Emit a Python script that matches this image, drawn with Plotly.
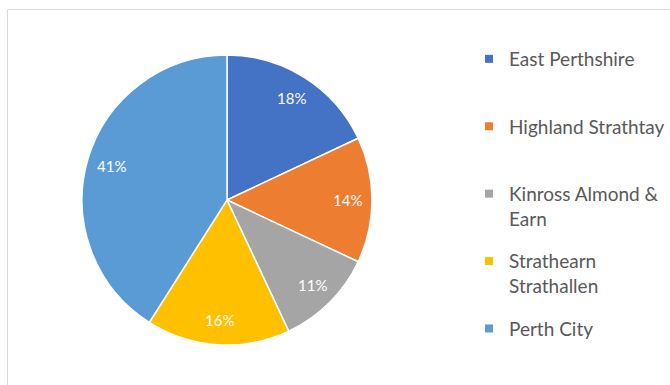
import math
import plotly.graph_objects as go

# Share of respondents by ward
wards = [
    "East Perthshire",
    "Highland Strathtay",
    "Kinross Almond & Earn",
    "Strathearn Strathallen",
    "Perth City",
]
legend_text = [
    "East Perthshire<br> ",
    "Highland Strathtay<br> ",
    "Kinross Almond &<br>Earn",
    "Strathearn<br>Strathallen",
    "Perth City<br> ",
]
shares = [18, 14, 11, 16, 41]
colours = ["#4472C4", "#ED7D31", "#A5A5A5", "#FFC000", "#5B9BD5"]

W, H = 670, 385
# pie placement in pixels
CX, CY, R = 227, 200, 145
LABEL_R = 0.83

fig = go.Figure()

fig.add_trace(
    go.Pie(
        labels=wards,
        values=shares,
        sort=False,
        direction="clockwise",
        rotation=0,
        marker=dict(colors=colours, line=dict(color="white", width=1.5)),
        textinfo="none",
        domain=dict(x=[(CX - R) / W, (CX + R) / W], y=[(H - CY - R) / H, (H - CY + R) / H]),
        hoverinfo="label+percent",
        showlegend=False,
    )
)

# percentage labels placed along each slice's mid-angle
total = sum(shares)
cum = 0
annotations = []
for v in shares:
    mid = (cum + v / 2) / total * 2 * math.pi
    cum += v
    px = CX + LABEL_R * R * math.sin(mid)
    py = CY - LABEL_R * R * math.cos(mid)
    annotations.append(
        dict(
            x=px / W,
            y=1 - py / H,
            xref="paper",
            yref="paper",
            xanchor="center",
            yanchor="middle",
            text=f"{v}%",
            showarrow=False,
            font=dict(family="Lato", size=15, color="white"),
        )
    )

# legend entries with small square swatches
for name, col in zip(legend_text, colours):
    fig.add_trace(
        go.Scatter(
            x=[None],
            y=[None],
            mode="markers",
            name=name,
            legendgroup=name,
            marker=dict(symbol="square", size=8, color=col),
            hoverinfo="skip",
        )
    )

fig.update_layout(
    width=W,
    height=H,
    margin=dict(l=0, r=0, t=0, b=0),
    paper_bgcolor="white",
    plot_bgcolor="white",
    font=dict(family="Lato", color="#595959"),
    xaxis=dict(visible=False),
    yaxis=dict(visible=False),
    annotations=annotations,
    legend=dict(
        x=469 / W,
        y=1 - 40 / H,
        xanchor="left",
        yanchor="top",
        font=dict(family="Lato", size=19, color="#595959"),
        itemwidth=30,
        valign="top",
        tracegroupgap=15,
        bgcolor="rgba(0,0,0,0)",
    ),
    shapes=[
        dict(
            type="rect",
            xref="paper",
            yref="paper",
            x0=7.5 / W,
            x1=1.05,
            y0=-0.05,
            y1=(H - 9.5) / H,
            line=dict(color="#D9D9D9", width=1),
            fillcolor="rgba(0,0,0,0)",
            layer="below",
        )
    ],
)

fig.write_html("out.html")
